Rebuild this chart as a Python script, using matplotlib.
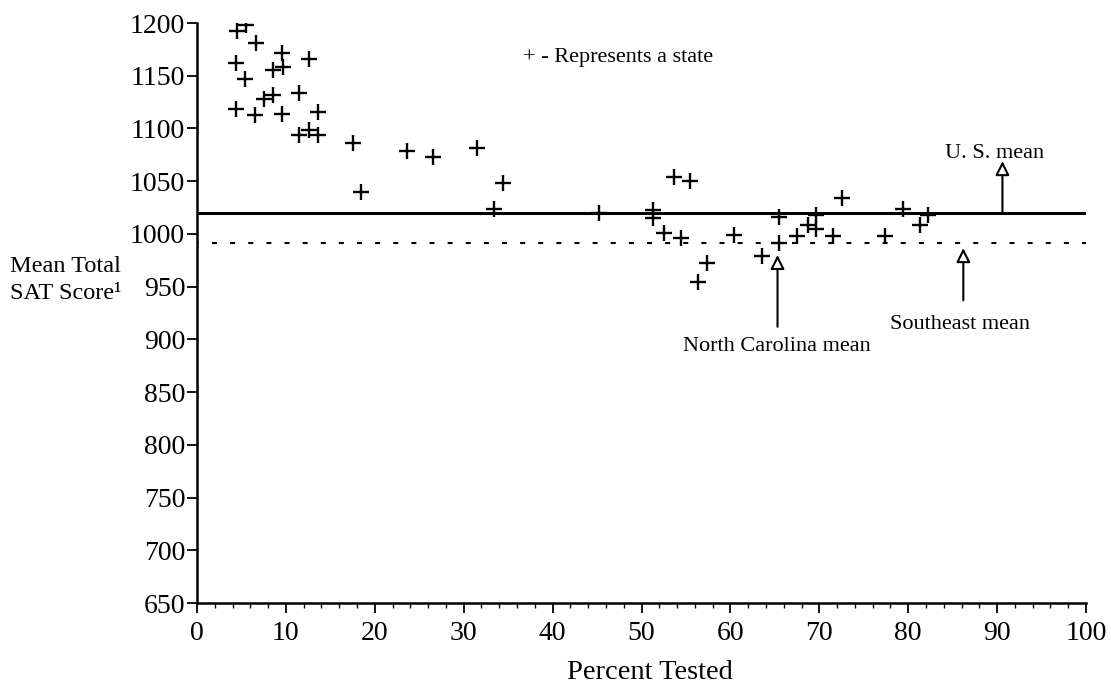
import matplotlib
matplotlib.use("Agg")
import matplotlib.pyplot as plt
from matplotlib.ticker import MultipleLocator

plt.rcParams['font.family'] = ['Liberation Serif', 'DejaVu Serif']

# Percent of graduates tested (x) and mean total SAT score (y), one per state
pct_tested = [4.5, 5.5, 6.6, 9.6, 9.7, 8.5, 12.6, 4.4, 5.4, 8.5, 7.5, 11.5, 4.4, 6.5,
              9.6, 13.6, 11.5, 12.6, 13.6, 17.6,
              18.5, 23.6, 26.5, 31.5, 34.4, 33.4,
              45.2, 51.3, 51.3, 52.5, 54.4, 53.6, 55.5, 57.4, 56.4, 60.4, 63.5,
              65.5, 65.5, 67.5, 69.6, 68.7, 69.6, 71.5, 72.5,
              77.4, 79.4, 81.3, 82.2]
mean_sat = [1192, 1198, 1181, 1172, 1158, 1155, 1166, 1162, 1147, 1132, 1128, 1134, 1118, 1113,
            1114, 1116, 1094, 1099, 1094, 1086,
            1040, 1079, 1073, 1081, 1048, 1024,
            1020, 1023, 1015, 1001, 996, 1054, 1050, 972, 954, 999, 979,
            1016, 991, 998, 1018, 1008, 1005, 998, 1034,
            998, 1024, 1008, 1018]

us_mean = 1020
southeast_mean = 991

x_ticks = [0, 10, 20, 30, 40, 50, 60, 70, 80, 90, 100]
y_ticks = [650, 700, 750, 800, 850, 900, 950, 1000, 1050, 1100, 1150, 1200]

fig = plt.figure(figsize=(11.11, 6.90), dpi=100)
ax = fig.add_axes([197/1111, 1 - 603/690, (1086-197)/1111, (603-23)/690])

ax.plot(pct_tested, mean_sat, linestyle='none', marker='+', markersize=11.5,
        markeredgewidth=1.7, color='black')

ax.plot([x_ticks[0], x_ticks[-1]], [us_mean, us_mean], color='black', lw=2.2)
ax.plot([x_ticks[0], x_ticks[-1]], [southeast_mean, southeast_mean], color='black',
        lw=1.5, linestyle=(1.5, (2.4, 6.3)))

arrow_props = dict(arrowstyle='-|>,head_length=0.4,head_width=0.2', mutation_scale=21,
                   fc='white', ec='black', lw=1.5, shrinkA=0, shrinkB=0)

# U.S. mean annotation
ax.annotate('', xy=(90.6, 1069), xytext=(90.6, us_mean), arrowprops=arrow_props)
ax.text(89.7, 1072, 'U. S. mean', fontsize=16, ha='center', va='baseline')

# North Carolina mean annotation
ax.annotate('', xy=(65.3, 980), xytext=(65.3, 912), arrowprops=arrow_props)
ax.text(65.2, 889, 'North Carolina mean', fontsize=16, ha='center', va='baseline')

# Southeast mean annotation
ax.annotate('', xy=(86.2, 986.5), xytext=(86.2, 937), arrowprops=arrow_props)
ax.text(85.8, 910, 'Southeast mean', fontsize=16, ha='center', va='baseline')

# key text
ax.text(36.7, 1163, '+ - Represents a state', fontsize=16, ha='left', va='baseline')

ax.set_xlim(0, 100)
ax.set_ylim(650, 1200)
ax.set_xticks(x_ticks)
ax.set_yticks(y_ticks)
ax.xaxis.set_minor_locator(MultipleLocator(2))
ax.tick_params(axis='both', which='major', direction='out', length=7, width=1.3,
               labelsize=20, color='black')
ax.tick_params(axis='x', which='major', pad=6)
ax.tick_params(axis='y', which='major', pad=1.5)
ax.tick_params(axis='x', which='minor', direction='out', length=3.5, width=1.0)
for s in ['top', 'right']:
    ax.spines[s].set_visible(False)
for s in ['left', 'bottom']:
    ax.spines[s].set_linewidth(1.8)

ax.set_xlabel('Percent Tested', fontsize=20.5, va='center')
ax.xaxis.set_label_coords(0.51, -0.119)

fig.text(10/1111, 1 - 266/690, 'Mean Total', fontsize=17.5, ha='left', va='center')
fig.text(10/1111, 1 - 293/690, 'SAT Score\u00b9', fontsize=17.5, ha='left', va='center')

fig.savefig('out.png', dpi=100, facecolor='white')
